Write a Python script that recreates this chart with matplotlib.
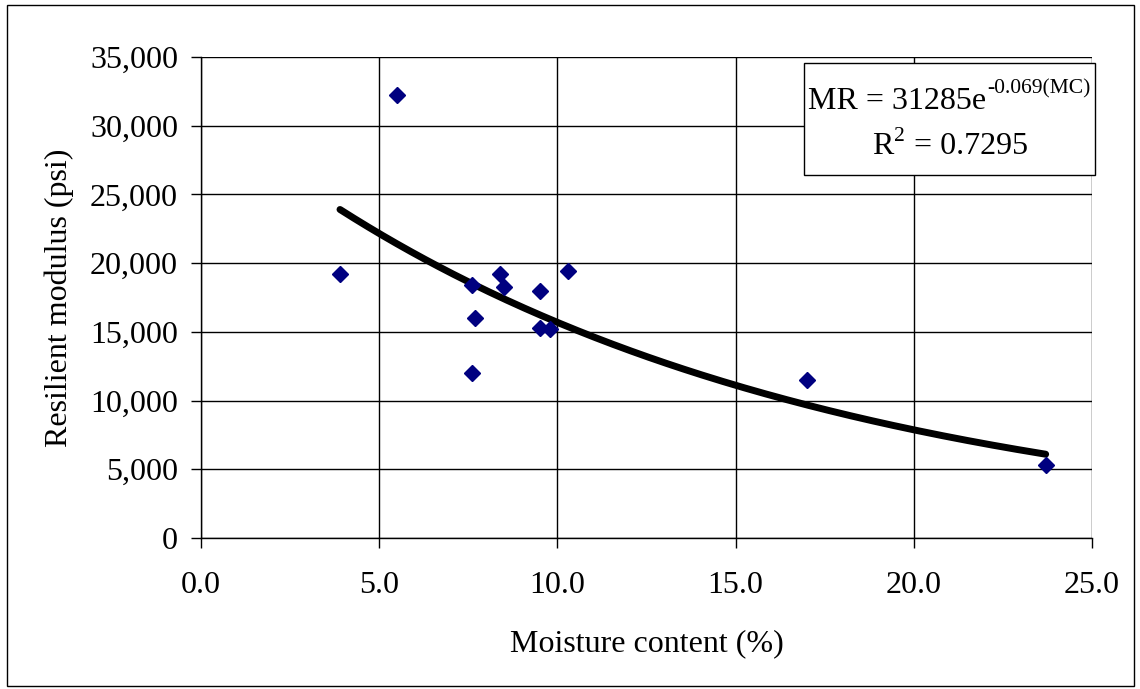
import numpy as np
import matplotlib
matplotlib.use("Agg")
import matplotlib.pyplot as plt
from matplotlib.patches import Rectangle

plt.rcParams['font.family'] = ['Liberation Serif', 'DejaVu Serif']

# Data
moisture = [3.9, 5.5, 7.6, 7.7, 7.6, 8.4, 8.5, 9.5, 9.5, 9.8, 10.3, 17.0, 23.7]
modulus = [19200, 32200, 18400, 16000, 12000, 19200, 18300, 18000, 15300, 15200, 19450, 11500, 5300]

fit_a = 31285
fit_b = -0.069
r2 = 0.7295

x_ticks = [0, 5, 10, 15, 20, 25]
y_ticks = [0, 5000, 10000, 15000, 20000, 25000, 30000, 35000]

W, H = 1140, 689
fig = plt.figure(figsize=(W/100, H/100), dpi=100)
ax = fig.add_axes([201/W, 1-538/H, (1092-201)/W, (538-57)/H])

xs = np.linspace(min(moisture), max(moisture), 200)
ax.plot(xs, fit_a*np.exp(fit_b*xs), color='black', lw=5, solid_capstyle='round', zorder=3)
ax.plot(moisture, modulus, linestyle='none', marker='D', markersize=8.5,
        color='#000080', markeredgecolor='#000080', zorder=4)

ax.set_xlim(0, 25)
ax.set_ylim(0, 35000)
ax.set_xticks(x_ticks)
ax.set_xticklabels([f"{v:.1f}" for v in x_ticks])
ax.set_yticks(y_ticks)
ax.set_yticklabels([f"{v:,}" for v in y_ticks])
ax.grid(True, color='black', lw=1.0)
ax.set_axisbelow(True)
for s in ax.spines.values():
    s.set_color('black')
    s.set_linewidth(1.0)
ax.spines['top'].set_visible(False)
ax.spines['right'].set_visible(False)
ax.tick_params(direction='out', length=7, width=1.0, labelsize=23)
ax.tick_params(axis='x', pad=16.5)
ax.tick_params(axis='y', pad=9.5)

ax.set_xlabel('Moisture content (%)', fontsize=23, labelpad=21)
ax.set_ylabel('Resilient modulus (psi)', fontsize=23, labelpad=11.5)

# Equation box
fig.patches.append(Rectangle((804/W, 1-175/H), (1095-804)/W, (175-63)/H,
                             transform=fig.transFigure, facecolor='white',
                             edgecolor='black', lw=1.0, zorder=5))
renderer = fig.canvas.get_renderer()

t1 = fig.text(808/W, 1-109/H, 'MR = 31285e', fontsize=23, ha='left', va='baseline', zorder=6)
w1 = t1.get_window_extent(renderer).width
fig.text((808+w1+1)/W, 1-93/H, f'{fit_b}(MC)', fontsize=15.5, ha='left', va='baseline', zorder=6)

t2 = fig.text(872/W, 1-154/H, 'R', fontsize=23, ha='left', va='baseline', zorder=6)
w2 = t2.get_window_extent(renderer).width
t3 = fig.text((872+w2+1)/W, 1-141/H, '2', fontsize=15.5, ha='left', va='baseline', zorder=6)
w3 = t3.get_window_extent(renderer).width
fig.text((872+w2+w3+2)/W, 1-154/H, f' = {r2}', fontsize=23, ha='left', va='baseline', zorder=6)

# Outer chart border
fig.patches.append(Rectangle((7/W, 3/H), (1134-7)/W, (684-3)/H,
                             transform=fig.transFigure, fill=False,
                             edgecolor='black', lw=1.0))

fig.savefig('out.png', dpi=100)
